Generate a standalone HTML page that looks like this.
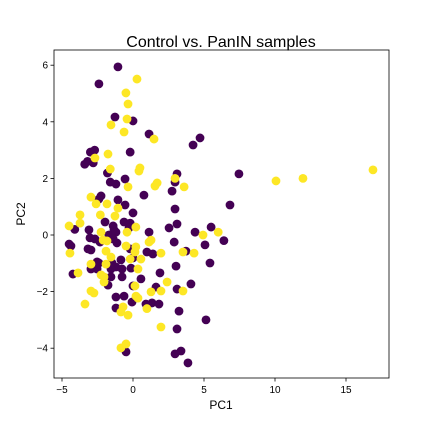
<!DOCTYPE html>
<html><head><meta charset="utf-8"><style>
body{margin:0;background:#fff;}
svg{display:block;font-family:"Liberation Sans","DejaVu Sans",sans-serif;}
</style></head><body>
<svg id="chart" width="432" height="432">
<text x="221" y="47" font-size="16" text-anchor="middle">Control vs. PanIN samples</text>
<text x="221" y="409" font-size="12" text-anchor="middle">PC1</text>
<text x="25" y="214" font-size="12" text-anchor="middle" transform="rotate(-90 25 214)">PC2</text>
<g id="marks"></g>
<g id="axes"></g>
</svg>
<script>
const xTicks=[-5,0,5,10,15];
const yTicks=[-4,-2,0,2,4,6];
const controlX=[-1.06,-2.4,-1.27,0.0,1.13,4.72,4.23,-0.2,-3.0,-2.7,-3.2,-3.4,-2.8,-1.8,3.1,2.96,-1.6,-1.2,-0.56,2.75,0.77,-2.25,-2.4,-1.06,-0.56,2.96,0,6.83,-1.97,-1.4,-1.34,-0.63,-0.2,-0.28,-4.1,-3.1,-1.7,-1.2,-3.03,-2.68,-2.32,-1.4,-1.13,1.13,2.54,3.1,5.5,4.37,6.4,5.07,2.9,-4.5,-4.37,-3.17,-2.96,-0.2,0.98,1.4,3.73,5.42,3.03,0,-0.85,-2.53,-2.4,-2.96,-2.53,-1.48,-1.2,-0.77,-1.55,-0.14,-4.23,1.9,-1.55,-0.77,0.56,-1.76,0,1.62,4.08,3.1,-1.2,-0.63,-0.07,0.91,1.34,1.83,-1.2,3.24,5.14,3.1,-0.49,3.38,2.96,3.87,7.46];
const controlY=[5.94,5.34,4.17,4.03,3.57,3.43,3.18,2.93,2.93,3.0,2.6,2.5,2.55,2.19,2.16,1.87,1.87,1.8,1.98,1.55,1.41,1.38,1.27,1.24,1.06,0.92,0.78,1.06,0.46,0.32,0.18,0.46,0.42,0.25,0.2,0.18,0,0.1,-0.1,-0.14,-0.25,-0.14,-0.28,0.1,0.25,0.39,0.28,0.1,-0.2,-0.35,-0.25,-0.32,-0.39,-0.49,-0.53,-0.49,-0.6,-0.67,-0.57,-0.99,-1.1,-0.81,-0.88,-0.95,-0.99,-1.2,-1.2,-0.99,-1.13,-1.2,-1.2,-1.17,-1.38,-1.34,-1.48,-1.48,-1.55,-1.77,-1.8,-1.84,-1.73,-1.91,-2.19,-2.16,-2.37,-2.44,-2.4,-2.44,-2.58,-2.69,-3.0,-3.32,-4.13,-4.1,-4.2,-4.52,2.16];
const panX=[0.28,-0.5,-0.35,-0.42,-1.55,-0.63,1.48,-1.76,-2.68,-1.6,0.49,0.42,2.96,1.7,1.55,3.6,-0.35,-2.96,-2.6,-1.83,-1.06,-3.73,-2.3,-1.27,-3.73,-4.5,0.2,-0.42,-2.25,-2.1,-1.83,1.13,1.27,-0.49,0.2,0.14,-1.9,-4.44,1.97,3.52,4.3,4.93,6.0,-1.55,0.56,-0.2,-2.96,-1.9,0.35,-3.87,-2.25,-2.04,-2.04,2.4,0.14,-2.96,-2.75,1.27,1.97,3.52,0.21,0.35,-3.38,0.98,-0.7,-0.85,-0.35,1.97,-0.85,-0.49,10.07,11.97,16.9];
const panY=[5.51,5.02,4.63,4.1,3.89,3.64,3.39,2.86,2.72,2.33,2.37,2.26,2.0,1.84,1.73,1.7,1.7,1.34,1.1,1.1,0.95,0.71,0.71,0.67,0.42,0.32,0.28,0.1,0.1,-0.18,-0.21,-0.25,-0.18,-0.39,-0.42,-0.6,-0.57,-0.64,-0.64,-0.6,-0.64,0,0.1,-0.78,-0.85,-0.85,-1.03,-1.03,-1.2,-1.34,-1.41,-1.48,-1.66,-1.66,-1.8,-1.98,-2.05,-2.01,-1.98,-1.98,-2.16,-2.23,-2.44,-2.6,-2.54,-2.72,-2.83,-3.25,-3.99,-3.85,1.91,2.0,2.3];
const L=54,R=389,T=50,B=378;
function sx(v){return 133+v*14.2;}
function sy(v){return 235-v*28.3;}
const NS="http://www.w3.org/2000/svg";
const marks=document.getElementById('marks');
function dot(x,y,c,name){
  const el=document.createElementNS(NS,'circle');
  el.setAttribute('cx',sx(x));el.setAttribute('cy',sy(y));el.setAttribute('r',4.4);el.setAttribute('fill',c);
  
  
  marks.appendChild(el);
}
controlX.forEach((x,i)=>dot(x,controlY[i],'#440154','control-point'));
panX.forEach((x,i)=>dot(x,panY[i],'#fde725','panin-point'));
const axes=document.getElementById('axes');
const frame=document.createElementNS(NS,'rect');
frame.setAttribute('x',L);frame.setAttribute('y',T);frame.setAttribute('width',R-L);frame.setAttribute('height',B-T);
frame.setAttribute('fill','none');frame.setAttribute('stroke','#000');frame.setAttribute('stroke-width','0.8');


axes.appendChild(frame);
xTicks.forEach(t=>{
  const x=sx(t);
  const ln=document.createElementNS(NS,'line');
  ln.setAttribute('x1',x);ln.setAttribute('x2',x);ln.setAttribute('y1',B);ln.setAttribute('y2',B+3.5);ln.setAttribute('stroke','#000');ln.setAttribute('stroke-width','0.8');
  
  
  axes.appendChild(ln);
  const tx=document.createElementNS(NS,'text');
  tx.setAttribute('x',x);tx.setAttribute('y',B+15);tx.setAttribute('font-size','10');tx.setAttribute('text-anchor','middle');
  tx.textContent=t<0?'\u2212'+(-t):String(t);
  
  
  axes.appendChild(tx);
});
yTicks.forEach(t=>{
  const y=sy(t);
  const ln=document.createElementNS(NS,'line');
  ln.setAttribute('x1',L-3.5);ln.setAttribute('x2',L);ln.setAttribute('y1',y);ln.setAttribute('y2',y);ln.setAttribute('stroke','#000');ln.setAttribute('stroke-width','0.8');
  
  
  axes.appendChild(ln);
  const tx=document.createElementNS(NS,'text');
  tx.setAttribute('x',L-6);tx.setAttribute('y',y+3.5);tx.setAttribute('font-size','10');tx.setAttribute('text-anchor','end');
  tx.textContent=t<0?'\u2212'+(-t):String(t);
  
  
  axes.appendChild(tx);
});
</script>
</body></html>
